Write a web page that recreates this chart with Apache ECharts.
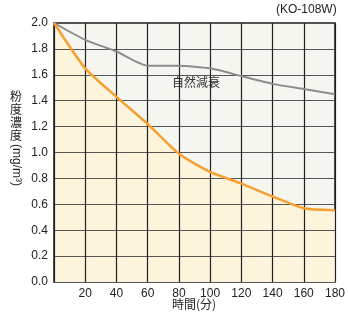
<!DOCTYPE html>
<html>
<head>
<meta charset="utf-8">
<script src="https://cdn.jsdelivr.net/npm/echarts@6/dist/echarts.min.js"></script>
<style>
  html, body { margin: 0; padding: 0; background: #fff; }
  #chart { width: 348px; height: 318px; }
</style>
</head>
<body>
<div id="chart"></div>
<script>
// minutes
const times = [0, 20, 40, 60, 80, 100, 120, 140, 160, 180];
// natural decay (gray) and with purifier (orange), mg/m3
const naturalDecay = [2.0, 1.87, 1.78, 1.67, 1.67, 1.65, 1.59, 1.53, 1.49, 1.45];
const withPurifier = [2.0, 1.65, 1.43, 1.22, 0.99, 0.85, 0.76, 0.66, 0.57, 0.555];

const font = '"Liberation Sans", Arial, sans-serif';
const cjk = '"Noto Sans CJK JP", sans-serif';

const pairs = (ys) => times.map((t, i) => [t, ys[i]]);

const chart = echarts.init(document.getElementById('chart'));

chart.setOption({
    animation: false,
    backgroundColor: '#fff',
    grid: {
        left: 54, right: 6, top: 23, bottom: 36,
        show: true,
        backgroundColor: '#f6f6f0',
        borderColor: '#1a1a1a',
        borderWidth: 1.5,
    },
    xAxis: {
        type: 'value',
        min: 0, max: 180, interval: 20,
        z: 2,
        axisLine: { show: false },
        axisTick: { show: false },
        axisLabel: {
            color: '#222', fontSize: 12, fontFamily: font, margin: 6,
            formatter: (v) => (v === 0 ? '' : String(v)),
        },
        splitLine: { lineStyle: { color: '#222', width: 1.2 } },
    },
    yAxis: {
        type: 'value',
        min: 0, max: 2, interval: 0.2,
        z: 2,
        axisLine: { show: false },
        axisTick: { show: false },
        axisLabel: {
            color: '#222', fontSize: 12, fontFamily: font, margin: 6,
            formatter: (v) => v.toFixed(1),
        },
        splitLine: { lineStyle: { color: '#555', width: 1.2 } },
    },
    series: [
        {
            // cream fill under the orange curve
            type: 'line',
            data: pairs(withPurifier),
            smooth: 0.2,
            symbol: 'none',
            z: 1,
            lineStyle: { width: 0 },
            areaStyle: { color: '#fcf5dc', opacity: 1 },
            silent: true,
        },
        {
            type: 'line',
            data: pairs(naturalDecay),
            smooth: 0.2,
            symbol: 'none',
            z: 3,
            lineStyle: { color: '#8c8c8c', width: 2 },
        },
        {
            type: 'line',
            data: pairs(withPurifier),
            smooth: 0.2,
            symbol: 'none',
            z: 4,
            lineStyle: { color: '#f5a030', width: 2.5 },
        },
    ],
    graphic: [
        {
            type: 'text', x: 276, y: 4,
            style: { text: '(KO-108W)', fontSize: 12, fontFamily: font, fill: '#222' },
        },
        {
            type: 'text', x: 172, y: 76,
            style: { text: '自然減衰', fontSize: 12, fontFamily: cjk, fill: '#333' },
        },
        {
            type: 'text', x: 10, y: 90,
            style: { text: '粉\n度\n濃\n度', fontSize: 12, lineHeight: 13, fontFamily: cjk, fill: '#222' },
        },
        {
            type: 'group', x: 22, y: 144, rotation: -Math.PI / 2,
            children: [{
                type: 'text', x: 0, y: 0,
                style: { text: '(mg/m³)', fontSize: 12, fontFamily: font, fill: '#222' },
            }],
        },
        {
            type: 'text', x: 172, y: 298,
            style: { text: '時間(分)', fontSize: 12, fontFamily: cjk, fill: '#222' },
        },
    ],
});
</script>
</body>
</html>
